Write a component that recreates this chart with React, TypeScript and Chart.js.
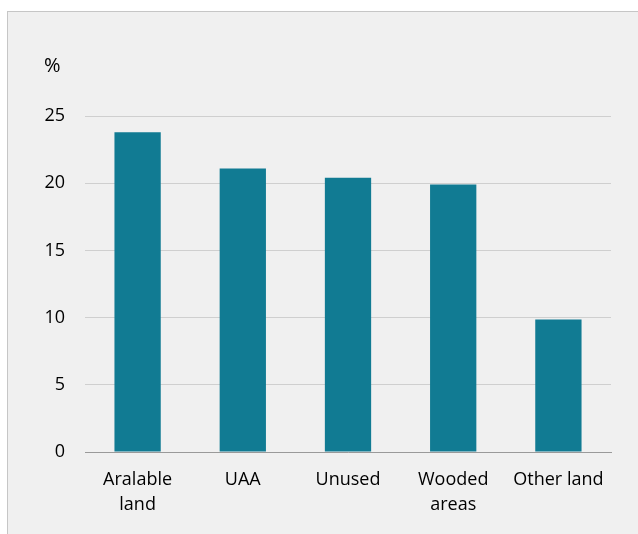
import React, { useEffect, useRef } from "react";
import { Chart, registerables } from "chart.js";

Chart.register(...registerables);

const categories: (string | string[])[] = [["Aralable", "land"], "UAA", "Unused", ["Wooded", "areas"], "Other land"];
const values: number[] = [23.8, 21.1, 20.4, 19.9, 9.85];
const yTicks: number[] = [0, 5, 10, 15, 20, 25];
const unitLabel = "%";

const FONT = "'Open Sans', 'Noto Sans', sans-serif";

export default function App() {
  const ref = useRef<HTMLCanvasElement | null>(null);
  useEffect(() => {
    document.body.style.margin = "0";
    document.body.style.background = "#ffffff";
    const unitPlugin = {
      id: "unitLabel",
      afterDraw(chart: any) {
        const ctx = chart.ctx;
        ctx.save();
        ctx.font = `20px ${FONT}`;
        ctx.fillStyle = "#000000";
        ctx.textAlign = "left";
        ctx.textBaseline = "middle";
        ctx.fillText(unitLabel, 36, 54);
        ctx.restore();
      },
    };
    const chart = new Chart(ref.current!, {
      type: "bar",
      data: {
        labels: categories,
        datasets: [
          {
            data: values,
            backgroundColor: "#117b93",
            borderWidth: 0,
            barPercentage: 0.44,
            categoryPercentage: 1,
          },
        ],
      },
      options: {
        animation: false,
        responsive: false,
        layout: { padding: { left: 0, right: 28, top: 104, bottom: 0 } },
        plugins: { legend: { display: false }, tooltip: { enabled: false } },
        scales: {
          x: {
            grid: { display: false, drawTicks: false },
            border: { display: true, color: "#9a9a9a", width: 1 },
            ticks: {
              color: "#000000",
              font: { family: FONT, size: 18, lineHeight: 1.39 },
              padding: 15,
              maxRotation: 0,
              autoSkip: false,
            },
            afterFit: (s: any) => {
              s.height = 83;
            },
          },
          y: {
            min: 0,
            max: 25,
            afterBuildTicks: (s: any) => {
              s.ticks = yTicks.map((v) => ({ value: v }));
            },
            grid: { color: "#cfcfcf", lineWidth: 1, drawTicks: false },
            border: { display: false },
            ticks: {
              color: "#000000",
              font: { family: FONT, size: 18 },
              padding: 20,
            },
            afterFit: (s: any) => {
              s.width = 77;
            },
          },
        },
      },
      plugins: [unitPlugin],
    });
    return () => chart.destroy();
  }, []);
  return (
    <div
      style={{
        position: "absolute",
        left: 7,
        top: 11,
        width: 640,
        height: 530,
        background: "#f0f0f0",
        borderLeft: "1px solid #c6c6c6",
        borderTop: "1px solid #c6c6c6",
      }}
    >
      <canvas ref={ref} width={631} height={523} style={{ display: "block" }} />
    </div>
  );
}
